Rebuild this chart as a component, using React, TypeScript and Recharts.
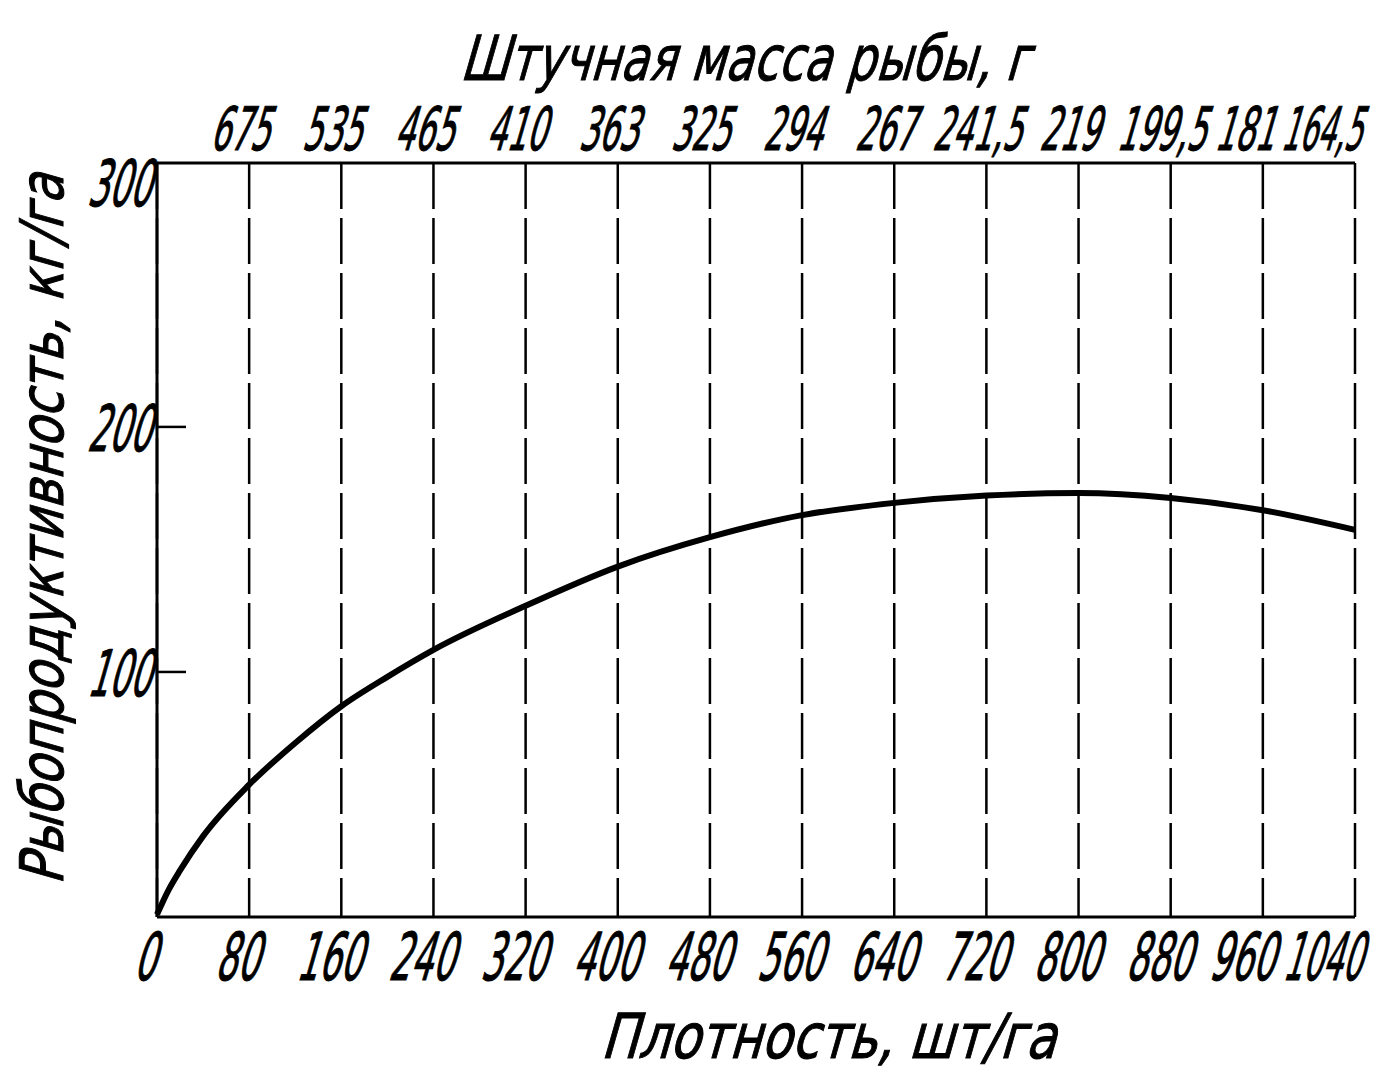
import React from "react";
import { LineChart, Line, XAxis, YAxis, CartesianGrid } from "recharts";

// Density, pcs/ha (x) and fish productivity, kg/ha (y)
const density = [0, 10, 20, 40, 80, 120, 160, 200, 240, 320, 400, 480, 560, 640, 720, 800, 880, 960, 1040];
const productivity = [1, 11, 19, 33, 54, 71, 86, 98, 109, 127, 143, 155, 164, 169, 172, 173, 171, 166, 158];

const densityTicks = [0, 80, 160, 240, 320, 400, 480, 560, 640, 720, 800, 880, 960, 1040];
const massTickPositions = [80, 160, 240, 320, 400, 480, 560, 640, 720, 800, 880, 960, 1040];
const massLabels = ["675", "535", "465", "410", "363", "325", "294", "267", "241,5", "219", "199,5", "181", "164,5"];
const productivityTicks = [100, 200, 300];

const xTitle = "Плотность, шт/га";
const topTitle = "Штучная масса рыбы, г";
const yTitle = "Рыбопродуктивность, кг/га";

const data = density.map((d, i) => ({ x: d, y: productivity[i] }));

const FONT = "'DejaVu Sans', sans-serif";

function Cond({ x, y, text, size, sx, anchor = "middle", rotate = 0 }: any) {
  return (
    <g transform={`translate(${x},${y})${rotate ? ` rotate(${rotate})` : ""}`}>
      <text
        transform={`skewX(-16) scale(${sx},1)`}
        textAnchor={anchor}
        fontFamily={FONT}
        fontSize={size}
        fill="#000"
        stroke="#000"
        strokeWidth={1.1}
      >
        {text}
      </text>
    </g>
  );
}

const BottomTick = (props: any) => {
  const { x, y, payload } = props;
  const n = densityTicks.length;
  const idx = densityTicks.indexOf(payload.value);
  const last = idx === n - 1;
  const dx = last ? 6 : idx === n - 2 ? -22 : -13;
  return (
    <Cond
      x={x + dx}
      y={y + 63}
      text={String(payload.value)}
      size={66}
      sx={last ? 0.47 : 0.52}
      anchor={last ? "end" : "middle"}
    />
  );
};

const TopTick = (props: any) => {
  const { x, y, payload } = props;
  const n = massTickPositions.length;
  const idx = massTickPositions.indexOf(payload.value);
  const label = massLabels[idx] ?? "";
  const last = idx === n - 1;
  const dx = last ? 6 : idx === n - 2 ? -19 : -10;
  return (
    <Cond
      x={x + dx}
      y={y - 13}
      text={label}
      size={60}
      sx={last ? 0.47 : 0.52}
      anchor={last ? "end" : "middle"}
    />
  );
};

const LeftTick = (props: any) => {
  const { x, y, payload } = props;
  const showLine = payload.value !== 300;
  return (
    <g>
      {showLine && <line x1={x} y1={y} x2={x + 29} y2={y} stroke="#000" strokeWidth={2.5} />}
      <Cond x={x - 7} y={y + 24} text={String(payload.value)} size={64} sx={0.52} anchor="end" />
    </g>
  );
};

export default function App() {
  return (
    <div style={{ width: 1377, height: 1069, background: "#fff" }}>
      <LineChart
        width={1377}
        height={1069}
        data={data}
        margin={{ top: 0, right: 30, bottom: 8, left: 0 }}
      >
        <CartesianGrid
          horizontal={false}
          vertical={true}
          stroke="#000"
          strokeWidth={2.5}
          strokeDasharray="46 9"
        />
        <XAxis
          dataKey="x"
          type="number"
          domain={[0, 1040]}
          ticks={densityTicks}
          interval={0}
          height={152}
          tickSize={0}
          tickMargin={0}
          tickLine={false}
          axisLine={{ stroke: "#000", strokeWidth: 3 }}
          tick={<BottomTick />}
          label={{
            content: (p: any) => {
              const vb = p.viewBox;
              return <Cond x={vb.x + vb.width * 0.56} y={vb.y + 141} text={xTitle} size={62} sx={0.8} />;
            },
          }}
        />
        <XAxis
          xAxisId="top"
          orientation="top"
          dataKey="x"
          type="number"
          domain={[0, 1040]}
          ticks={massTickPositions}
          interval={0}
          height={155}
          tickSize={0}
          tickMargin={0}
          tickLine={false}
          axisLine={{ stroke: "#000", strokeWidth: 3 }}
          tick={<TopTick />}
          label={{
            content: (p: any) => {
              const vb = p.viewBox;
              return <Cond x={vb.x + vb.width * 0.49} y={vb.y + 72} text={topTitle} size={62} sx={0.74} />;
            },
          }}
        />
        <YAxis
          type="number"
          domain={[0, 307.7]}
          ticks={productivityTicks}
          interval={0}
          width={149}
          tickSize={0}
          tickMargin={0}
          tickLine={false}
          axisLine={{ stroke: "#000", strokeWidth: 3 }}
          tick={<LeftTick />}
          label={{
            content: (p: any) => {
              const vb = p.viewBox;
              return (
                <Cond
                  x={vb.x + 55}
                  y={vb.y + vb.height / 2 - 10}
                  text={yTitle}
                  size={60}
                  sx={0.82}
                  rotate={-90}
                />
              );
            },
          }}
        />
        <Line
          type="monotone"
          dataKey="y"
          stroke="#000"
          strokeWidth={6}
          dot={false}
          activeDot={false}
          isAnimationActive={false}
        />
      </LineChart>
    </div>
  );
}
